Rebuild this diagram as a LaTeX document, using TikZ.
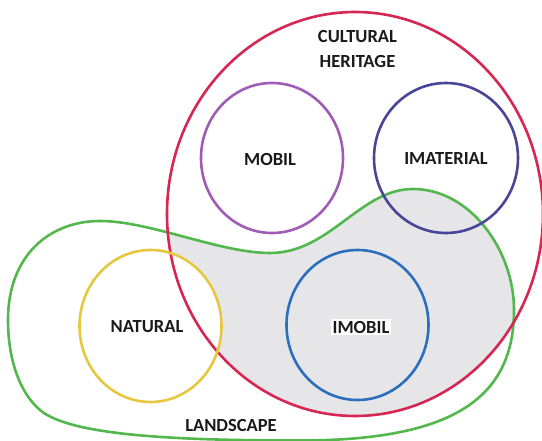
\documentclass[tikz,border=0pt]{standalone}
\usepackage{fontspec}
\setmainfont{Carlito}
\definecolor{cred}{RGB}{214,38,82}
\definecolor{cpurple}{RGB}{160,92,180}
\definecolor{cnavy}{RGB}{72,70,152}
\definecolor{cgreen}{RGB}{82,184,78}
\definecolor{cyellow}{RGB}{230,200,64}
\definecolor{cblue}{RGB}{44,110,190}
\definecolor{cgray}{RGB}{230,230,232}
\definecolor{ctext}{RGB}{26,26,30}
\begin{document}
\begin{tikzpicture}[x=1pt,y=-1pt,
  ring/.style={line width=2.6pt},
  lbl/.style={font=\bfseries\fontsize{18.5}{25}\selectfont, text=ctext, inner sep=1.5pt, align=center}]
\useasboundingbox (0,0) rectangle (542,441);
\fill[white] (0,0) rectangle (542,441);
\def\blob{(413,189) .. controls (470,189) and (514,250) .. (514,310)
  .. controls (514,400) and (450,440.5) .. (300,440.5)
  .. controls (180,440.5) and (70,436) .. (40,410)
  .. controls (20,393) and (8,360) .. (8,320)
  .. controls (8,255) and (50,221) .. (100,221)
  .. controls (150,221) and (220,253) .. (270,253)
  .. controls (330,253) and (360,189) .. (413,189) -- cycle}
% gray intersection
\begin{scope}
  \clip (355,214) ellipse [x radius=188pt, y radius=202pt];
  \fill[cgray] \blob;
\end{scope}
\fill[white] (150.5,326) ellipse [x radius=71pt, y radius=76pt];
% outlines
\draw[ring, cgreen] \blob;
\draw[ring, cred] (355,214) ellipse [x radius=188pt, y radius=202pt];
\draw[ring, cpurple] (272,158) ellipse [x radius=71pt, y radius=75pt];
\draw[ring, cnavy] (446,158) ellipse [x radius=72pt, y radius=75pt];
\draw[ring, cyellow] (150.5,326) ellipse [x radius=71pt, y radius=76pt];
\draw[ring, cblue] (357.5,325) ellipse [x radius=71pt, y radius=75pt];
% labels
\node[lbl] (heritage) at (357.5,48.5) {CULTURAL\\HERITAGE};
\node[lbl] (mobil) at (270,159) {MOBIL};
\node[lbl] (imaterial) at (446,159) {IMATERIAL};
\node[lbl] (natural) at (147,327) {NATURAL};
\node[lbl, fill=white] (imobil) at (361,327) {IMOBIL};
\node[lbl] (landscape) at (231,425) {LANDSCAPE};
\end{tikzpicture}
\end{document}
